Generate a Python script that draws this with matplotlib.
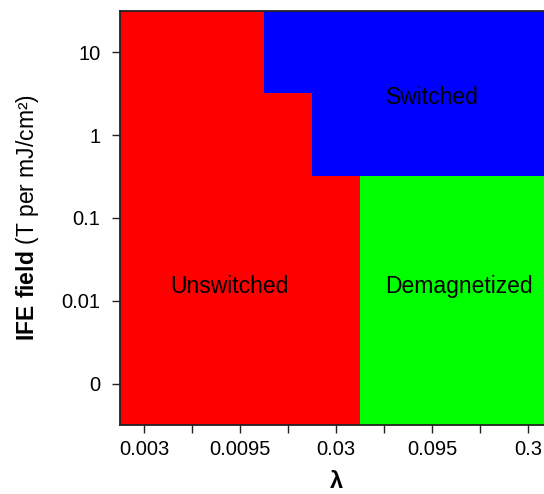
import numpy as np
import matplotlib.pyplot as plt
from matplotlib.colors import ListedColormap

plt.rcParams['font.family'] = ['Liberation Sans', 'DejaVu Sans']
plt.rcParams['mathtext.fontset'] = 'custom'
plt.rcParams['mathtext.rm'] = 'Liberation Sans'
plt.rcParams['mathtext.bf'] = 'Liberation Sans:bold'

lambdas = ['0.003', '0.0053', '0.0095', '0.017', '0.03', '0.053', '0.095', '0.17', '0.3']
fields = ['0', '0.01', '0.1', '1', '10']
state_names = ['Unswitched', 'Switched', 'Demagnetized']
state_colors = ['#FF0000', '#0000FF', '#00FF00']

# 0 = Unswitched, 1 = Switched, 2 = Demagnetized (rows from field 0 to 10)
states_0 = [0, 0, 0, 0, 0, 2, 2, 2, 2]
states_001 = [0, 0, 0, 0, 0, 2, 2, 2, 2]
states_01 = [0, 0, 0, 0, 0, 2, 2, 2, 2]
states_1 = [0, 0, 0, 0, 1, 1, 1, 1, 1]
states_10 = [0, 0, 0, 1, 1, 1, 1, 1, 1]

grid = np.array([states_0, states_001, states_01, states_1, states_10])

fig = plt.figure(figsize=(5.44, 4.94), dpi=100)
ax = fig.add_axes([120 / 544, 69 / 494, 432 / 544, 414 / 494])

ax.imshow(grid, origin='lower', aspect='auto', interpolation='nearest',
          cmap=ListedColormap(state_colors), vmin=-0.5, vmax=2.5)

ax.set_xlim(-0.5, len(lambdas) - 0.5)
ax.set_ylim(-0.5, len(fields) - 0.5)

ax.set_xticks(range(len(lambdas)))
ax.set_xticklabels([l if i % 2 == 0 else '' for i, l in enumerate(lambdas)])
ax.set_yticks(range(len(fields)))
ax.set_yticklabels(fields)
ax.tick_params(axis='both', labelsize=14.5, length=6, width=1, color='#222222')
ax.tick_params(axis='x', pad=5)
ax.tick_params(axis='y', pad=8)

for s in ax.spines.values():
    s.set_linewidth(1.3)
    s.set_color('#222222')

ax.text(6.0, 3.45, 'Switched', ha='center', va='center', fontsize=16.5)
ax.text(1.77, 1.17, 'Unswitched', ha='center', va='center', fontsize=16.5)
ax.text(6.56, 1.17, 'Demagnetized', ha='center', va='center', fontsize=16.5)

ax.set_xlabel('λ', fontsize=17, fontweight='bold', labelpad=8)
fig.text(28 / 544, 1 - 218 / 494, r'$\mathbf{IFE\ field}$ (T per mJ/cm²)',
         rotation=90, ha='center', va='center', fontsize=16.5)

plt.savefig('out.png', dpi=100)
